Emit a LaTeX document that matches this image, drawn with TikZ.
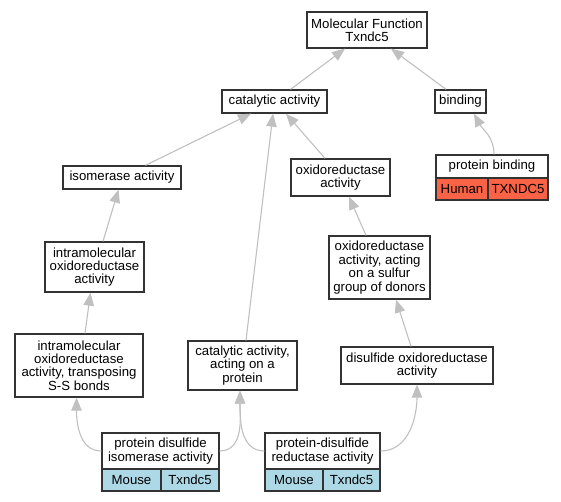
\documentclass[tikz,border=0pt]{standalone}
\usepackage{fontspec}
\setmainfont{Liberation Sans}
\usetikzlibrary{arrows.meta,calc}
\definecolor{edgegray}{HTML}{C0C0C0}
\definecolor{boxline}{HTML}{333333}
\definecolor{mousefill}{HTML}{ADD8E6}
\definecolor{humanfill}{HTML}{FB6347}
\tikzset{
  box/.style={draw=boxline, line width=1.3pt, fill=white, inner sep=0pt, align=center,
    font=\fontsize{13.2}{13.4}\selectfont},
  cell/.style={box},
  edge/.style={draw=edgegray, line width=1.1pt, -{Triangle[length=13pt,width=10.5pt]}, color=edgegray},
}
\begin{document}
\begin{tikzpicture}[x=1pt,y=-1pt]
\useasboundingbox (0,0) rectangle (561,501);
% nodes
\node[box, minimum width=120pt, minimum height=36pt] (mf) at (367,30) {Molecular Function\\Txndc5};
\node[box, minimum width=105pt, minimum height=23pt] (cat) at (274.5,101.5) {catalytic activity};
\node[box, minimum width=51pt, minimum height=23pt] (bind) at (460.5,101.5) {binding};
\node[box, minimum width=112pt, minimum height=23pt] (pbh) at (492,166.5) {protein binding};
\node[cell, fill=humanfill, minimum width=52pt, minimum height=22pt] (pbhu) at (462,189) {Human};
\node[cell, fill=humanfill, minimum width=60pt, minimum height=22pt] (pbtx) at (518,189) {TXNDC5};
\node[box, minimum width=118pt, minimum height=23pt] (iso) at (122,177.5) {isomerase activity};
\node[box, minimum width=99pt, minimum height=37pt] (ox) at (340.5,177.5) {oxidoreductase\\activity};
\node[box, minimum width=99pt, minimum height=50pt] (intra) at (94.5,267) {intramolecular\\oxidoreductase\\activity};
\node[box, minimum width=101pt, minimum height=63pt] (sulf) at (379.5,267.5) {oxidoreductase\\activity, acting\\on a sulfur\\group of donors};
\node[box, minimum width=128pt, minimum height=63pt] (intrass) at (79,365.5) {intramolecular\\oxidoreductase\\activity, transposing\\S-S bonds};
\node[box, minimum width=109pt, minimum height=49pt] (caaop) at (242.5,365.5) {catalytic activity,\\acting on a\\protein};
\node[box, minimum width=152pt, minimum height=37pt] (disulf) at (417,365.5) {disulfide oxidoreductase\\activity};
\node[box, minimum width=117pt, minimum height=36pt] (pdi) at (160.5,451) {protein disulfide\\isomerase activity};
\node[cell, fill=mousefill, minimum width=59pt, minimum height=22pt] (pdimo) at (131.5,480) {Mouse};
\node[cell, fill=mousefill, minimum width=58pt, minimum height=22pt] (pditx) at (190,480) {Txndc5};
\node[box, minimum width=115pt, minimum height=36pt] (pdr) at (322.5,451) {protein-disulfide\\reductase activity};
\node[cell, fill=mousefill, minimum width=58pt, minimum height=22pt] (pdrmo) at (294,480) {Mouse};
\node[cell, fill=mousefill, minimum width=57pt, minimum height=22pt] (pdrtx) at (351.5,480) {Txndc5};
% edges
\draw[edge] ([xshift=16pt]cat.north) -- ([xshift=-22pt]mf.south);
\draw[edge] ([xshift=-14.5pt]bind.north) -- ([xshift=24pt]mf.south);
\draw[edge] ([xshift=2pt]pbh.north) to[out=90,in=-62] ([xshift=13.5pt]bind.south);
\draw[edge] ([xshift=23.5pt]iso.north) -- ([xshift=-23.5pt]cat.south);
\draw[edge] ([xshift=3.5pt]caaop.north) -- ([xshift=-1.5pt]cat.south);
\draw[edge] ([xshift=-15.5pt]ox.north) -- ([xshift=11.5pt]cat.south);
\draw[edge] ([xshift=8.5pt]intra.north) -- ([xshift=-3.5pt]iso.south);
\draw[edge] ([xshift=6pt]intrass.north) -- ([xshift=-4pt]intra.south);
\draw[edge] ([xshift=-13.5pt]sulf.north) -- ([xshift=8.5pt]ox.south);
\draw[edge] ([xshift=-6pt]disulf.north) -- ([xshift=16.5pt]sulf.south);
\draw[edge] (pdi.west) to[out=180,in=-90] ([xshift=-2.5pt]intrass.south);
\draw[edge] (pdi.east) to[out=0,in=-90] ([xshift=-2.5pt]caaop.south);
\draw[edge] (pdr.west) to[out=180,in=-90] ([xshift=-2.5pt]caaop.south);
\draw[edge] (pdr.east) to[out=0,in=-90] (disulf.south);
\end{tikzpicture}
\end{document}
